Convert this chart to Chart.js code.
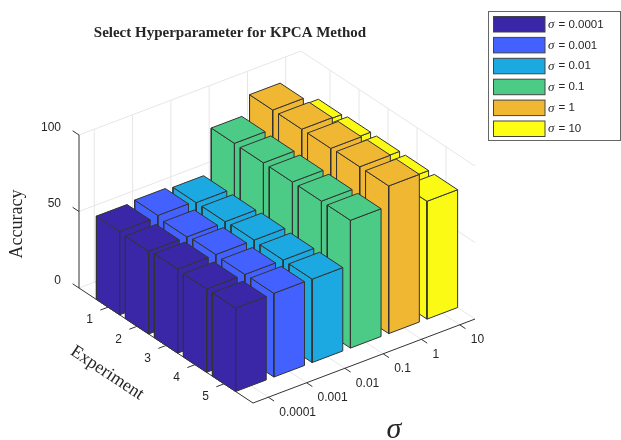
<!DOCTYPE html>
<html>
<head>
<meta charset="utf-8">
<style>
  html, body { margin: 0; padding: 0; background: #fff; }
  canvas { display: block; }
</style>
<script src="https://cdn.jsdelivr.net/npm/chart.js@4/dist/chart.umd.min.js"></script>
</head>
<body>
<canvas id="chart" width="621" height="440"></canvas>
<script>
// Data
const experimentLabels = ['1', '2', '3', '4', '5'];
const sigmaLabels = ['0.0001', '0.001', '0.01', '0.1', '1', '10'];
const accuracyTicks = [0, 50, 100];

const sigma0001 = [54.5, 54, 55, 54.5, 54.5];
const sigma001 = [55.5, 54, 55, 54.5, 54.7];
const sigma01 = [54.4, 54.5, 55, 54.5, 54.5];
const sigma1 = [83.7, 83.5, 83.5, 83.5, 83.5];
const sigma10 = [96, 96, 96, 96.5, 96.5];
const sigma100 = [76, 77, 77, 77, 77];

const series = [sigma0001, sigma001, sigma01, sigma1, sigma10, sigma100];
const colors = ['#3A27A8', '#4361FE', '#1CA8E0', '#4BCB86', '#F0B732', '#FAFA14'];

// 3D view: MATLAB style parallel projection onto the flat x/y scales
const EDGE = '#333333';
const GRID = '#e6e6e6';
const AXIS = '#333333';
const BAR = 0.4;
const E_MAX = 6;
const S_MIN = 0.6;
const S_MAX = 6.4;
const Z_MAX = 100;

function project(e, s, z) {
  return {
    x: 79 + e * 29 + (s - S_MIN) * 38.28,
    y: 288 + e * 19.17 - (s - S_MIN) * 14.48 - z * 1.53,
  };
}

const datasets = [];

function addLine(points, color, width) {
  datasets.push({
    data: points.map((p) => project(p[0], p[1], p[2])),
    showLine: true,
    borderColor: color,
    borderWidth: width,
    pointRadius: 0,
    fill: false,
  });
}

function addFace(points, color) {
  const closed = points.concat([points[0]]);
  datasets.push({
    data: closed.map((p) => project(p[0], p[1], p[2])),
    showLine: true,
    borderColor: EDGE,
    borderWidth: 1,
    backgroundColor: color,
    pointRadius: 0,
    fill: 'shape',
  });
}

// grid first, so the bars sit on top of it
accuracyTicks.forEach((z) => {
  addLine([[0, S_MIN, z], [0, S_MAX, z], [E_MAX, S_MAX, z]], GRID, 1);
});
experimentLabels.forEach((_, i) => {
  const e = i + 1;
  addLine([[e, S_MIN, 0], [e, S_MAX, 0], [e, S_MAX, Z_MAX]], GRID, 1);
});
sigmaLabels.forEach((_, i) => {
  const s = i + 1;
  addLine([[E_MAX, s, 0], [0, s, 0], [0, s, Z_MAX]], GRID, 1);
});

// axis lines and tick marks
addLine([[0, S_MIN, 0], [0, S_MIN, Z_MAX]], AXIS, 1);
addLine([[0, S_MIN, 0], [E_MAX, S_MIN, 0], [E_MAX, S_MAX, 0]], AXIS, 1);
accuracyTicks.forEach((z) => {
  addLine([[0, S_MIN, z], [-0.22, S_MIN, z]], AXIS, 1);
});
experimentLabels.forEach((_, i) => {
  addLine([[i + 1, S_MIN, 0], [i + 1, S_MIN - 0.2, 0]], AXIS, 1);
});
sigmaLabels.forEach((_, i) => {
  addLine([[E_MAX, i + 1, 0], [E_MAX + 0.2, i + 1, 0]], AXIS, 1);
});

// bars, far to near
for (let si = series.length - 1; si >= 0; si--) {
  for (let ei = 0; ei < experimentLabels.length; ei++) {
    const e = ei + 1;
    const s = si + 1;
    const z = series[si][ei];
    const color = colors[si];
    addFace([[e - BAR, s - BAR, 0], [e + BAR, s - BAR, 0], [e + BAR, s - BAR, z], [e - BAR, s - BAR, z]], color);
    addFace([[e + BAR, s - BAR, 0], [e + BAR, s + BAR, 0], [e + BAR, s + BAR, z], [e + BAR, s - BAR, z]], color);
    addFace([[e - BAR, s - BAR, z], [e + BAR, s - BAR, z], [e + BAR, s + BAR, z], [e - BAR, s + BAR, z]], color);
  }
}

// later datasets have to paint over earlier ones
datasets.forEach((d, i) => { d.order = datasets.length - i; });

const SANS = '"Liberation Sans", Arial, sans-serif';
const SERIF = '"Liberation Serif", "Times New Roman", serif';

function drawText(ctx, text, x, y, font, align, angle) {
  ctx.save();
  ctx.translate(x, y);
  ctx.rotate(angle || 0);
  ctx.font = font;
  ctx.fillStyle = '#262626';
  ctx.textAlign = align || 'center';
  ctx.textBaseline = 'middle';
  ctx.fillText(text, 0, 0);
  ctx.restore();
}

const labelsPlugin = {
  id: 'labels',
  afterDraw(chart) {
    const ctx = chart.ctx;
    const xs = chart.scales.x;
    const ys = chart.scales.y;
    const at = (e, s, z) => {
      const p = project(e, s, z);
      return { x: xs.getPixelForValue(p.x), y: ys.getPixelForValue(p.y) };
    };
    const tickFont = '12px ' + SANS;

    accuracyTicks.forEach((z) => {
      const p = at(0, S_MIN, z);
      drawText(ctx, String(z), p.x - 18, p.y - 7.5, tickFont, 'right');
    });
    experimentLabels.forEach((label, i) => {
      const p = at(i + 1, S_MIN, 0);
      drawText(ctx, label, p.x - 18.5, p.y + 13, tickFont);
    });
    sigmaLabels.forEach((label, i) => {
      const p = at(E_MAX, i + 1, 0);
      drawText(ctx, label, p.x + 11, p.y + 15, tickFont, 'left');
    });

    drawText(ctx, 'Select Hyperparameter for KPCA Method', 230, 33, 'bold 15px ' + SERIF);
    drawText(ctx, 'Accuracy', 17, 224, '18px ' + SERIF, 'center', -Math.PI / 2);
    drawText(ctx, 'Experiment', 107, 373, '18px ' + SERIF, 'center', 0.585);
    drawText(ctx, '\u03c3', 394, 430, 'italic 30px ' + SERIF);

    // legend box, runs to the edge of the picture
    ctx.fillStyle = '#fff';
    ctx.strokeStyle = '#666';
    ctx.lineWidth = 1;
    ctx.fillRect(488.5, 11.5, 132, 129);
    ctx.strokeRect(488.5, 11.5, 132, 129);
    sigmaLabels.forEach((label, i) => {
      const top = 16.5 + i * 20.9;
      ctx.fillStyle = i === 5 ? '#FFFF14' : colors[i];
      ctx.strokeStyle = '#444';
      ctx.fillRect(493.5, top, 51.5, 15.5);
      ctx.strokeRect(493.5, top, 51.5, 15.5);
      drawText(ctx, '\u03c3', 548, top + 8, 'italic 13px ' + SERIF, 'left');
      drawText(ctx, '= ' + label, 558.5, top + 8, '11.5px ' + SANS, 'left');
    });
  },
};

new Chart(document.getElementById('chart'), {
  type: 'scatter',
  data: { datasets: datasets },
  options: {
    responsive: false,
    animation: false,
    layout: { padding: 0 },
    plugins: {
      legend: { display: false },
      title: { display: false },
      tooltip: { enabled: false },
    },
    scales: {
      x: { type: 'linear', min: 0, max: 621, display: false },
      y: { type: 'linear', min: 0, max: 440, reverse: true, display: false },
    },
  },
  plugins: [labelsPlugin],
});
</script>
</body>
</html>
